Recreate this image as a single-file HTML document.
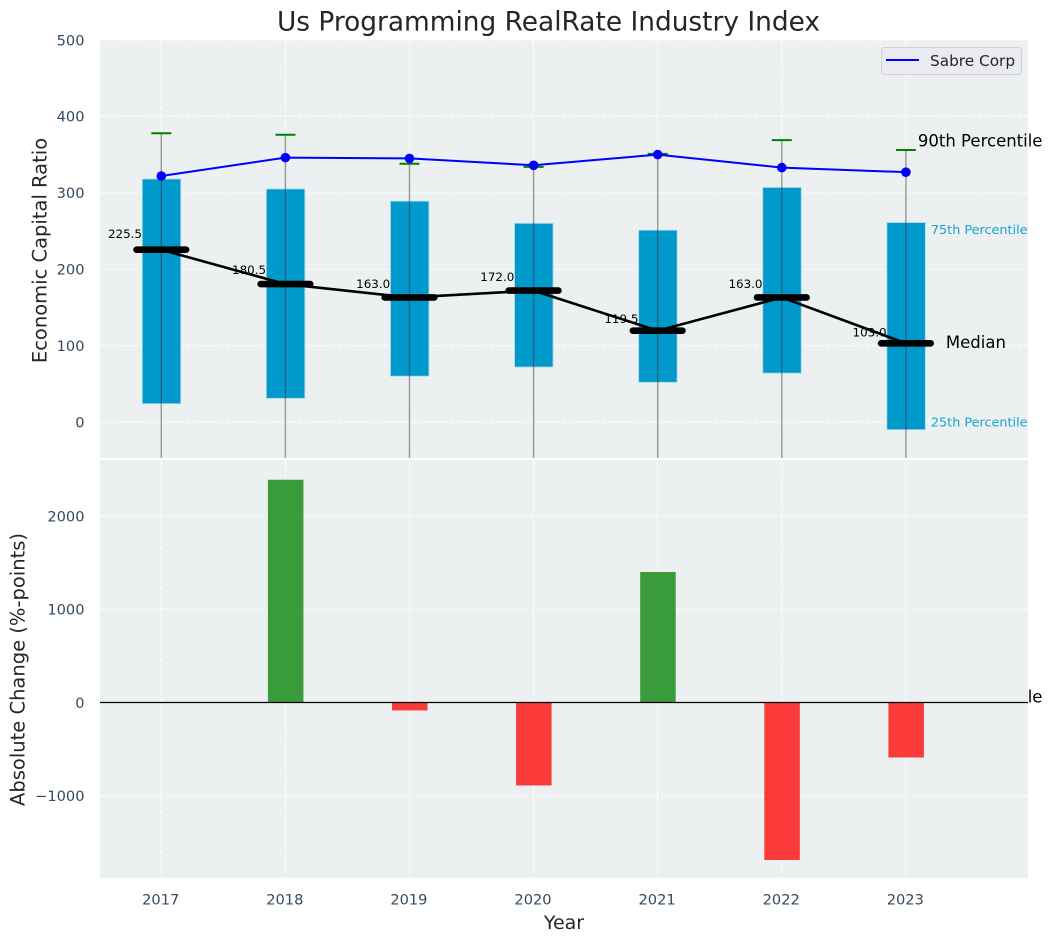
<!DOCTYPE html>
<html lang="en">
<head>
<meta charset="utf-8">
<title>Us Programming RealRate Industry Index</title>
<style>
  html, body { margin: 0; padding: 0; background: #ffffff; }
  svg { display: block; }
  text { font-family: "DejaVu Sans", "Liberation Sans", sans-serif; }
</style>
</head>
<body>
<svg id="chart" xmlns="http://www.w3.org/2000/svg" width="1053" height="942" viewBox="0 0 1053 942">
  <defs>
    <clipPath id="top-clip"><rect x="100" y="40" width="928" height="418"></rect></clipPath>
    <clipPath id="bottom-clip"><rect x="100" y="460" width="928" height="418"></rect></clipPath>
  </defs>
  <rect x="100" y="40" width="928" height="418" fill="#ecf0f1"></rect>
  <g id="top-grid"></g>
  <g id="top-marks"></g>
  <g id="top-notes"></g>
  <rect x="100" y="460" width="928" height="418" fill="#ecf0f1"></rect>
  <g id="bottom-grid"></g>
  <g id="bottom-marks"></g>
  <g id="axis-labels"></g>

  <text x="548.5" y="30.5" text-anchor="middle" font-size="26.4" fill="#262626">Us Programming RealRate Industry Index</text>
  <text transform="translate(46.5,250.5) rotate(-90)" text-anchor="middle" font-size="19.5" fill="#262626">Economic Capital Ratio</text>
  <text transform="translate(24.5,669.5) rotate(-90)" text-anchor="middle" font-size="19.5" fill="#262626">Absolute Change (%-points)</text>
  <text x="564" y="929" text-anchor="middle" font-size="19" fill="#262626">Year</text>

  <g>
    <rect x="881.5" y="47.5" width="140" height="27" rx="3" fill="#eaeaf2" stroke="#d0d0d4" stroke-width="1"></rect>
    <line x1="886" y1="60" x2="919" y2="60" stroke="#0000ff" stroke-width="2"></line>
    <text x="930" y="66" font-size="15.3" fill="#262626">Sabre Corp</text>
  </g>
</svg>
<script>
const years = [2017, 2018, 2019, 2020, 2021, 2022, 2023];
const p10 = [-340, -330, -300, -320, -330, -340, -360];
const p25 = [24, 31, 60, 72, 52, 64, -10];
const medians = [225.5, 180.5, 163.0, 172.0, 119.5, 163.0, 103.0];
const p75 = [318, 305, 289, 260, 251, 307, 261];
const p90 = [378, 376, 338, 334, 351, 369, 356];
const sabreCorp = [322, 346, 345, 336, 350, 333, 327];
const absoluteChange = [0, 2390, -85, -890, 1400, -1690, -590];
const topTicks = [0, 100, 200, 300, 400, 500];
const bottomTicks = [-1000, 0, 1000, 2000];

const NS = 'http://www.w3.org/2000/svg';
const xScale = function (year) { return 161.3 + (year - 2017) * 124.1; };
const yTop = function (v) { return 422 - v * 0.764; };
const yBottom = function (v) { return 702.5 - v * 0.0932; };

function make(parent, tag, attrs, content) {
  const el = document.createElementNS(NS, tag);
  Object.keys(attrs).forEach(function (k) { el.setAttribute(k, attrs[k]); });
  if (content !== undefined) el.textContent = content;
  parent.appendChild(el);
  return el;
}
const byId = function (id) { return document.getElementById(id); };
const gridStyle = { stroke: '#ffffff', 'stroke-width': 1.2, 'stroke-dasharray': '4.6 2', 'stroke-opacity': 0.8 };

/* grid lines */
topTicks.forEach(function (t) {
  const el = make(byId('top-grid'), 'line', Object.assign({ x1: 100, x2: 1028, y1: yTop(t), y2: yTop(t) }, gridStyle));
  
  
});
bottomTicks.forEach(function (t) {
  const el = make(byId('bottom-grid'), 'line', Object.assign({ x1: 100, x2: 1028, y1: yBottom(t), y2: yBottom(t) }, gridStyle));
  
  
});
years.forEach(function (yr) {
  const a = make(byId('top-grid'), 'line', Object.assign({ x1: xScale(yr), x2: xScale(yr), y1: 40, y2: 458 }, gridStyle));
  
  
  const b = make(byId('bottom-grid'), 'line', Object.assign({ x1: xScale(yr), x2: xScale(yr), y1: 460, y2: 878 }, gridStyle));
  
  
});

/* top panel marks */
const topMarks = byId('top-marks');
topMarks.setAttribute('clip-path', 'url(#top-clip)');

years.forEach(function (yr, i) {
  const x = xScale(yr);
  const box = make(topMarks, 'rect', {
    x: x - 19, width: 38.4,
    y: yTop(p75[i]), height: yTop(p25[i]) - yTop(p75[i]),
    fill: '#0099cc', stroke: '#a6d8ea', 'stroke-width': 0.8
  });
  
  

  const whisker = make(topMarks, 'line', {
    x1: x, x2: x, y1: yTop(p10[i]), y2: yTop(p90[i]),
    stroke: '#333333', 'stroke-opacity': 0.5, 'stroke-width': 1.4
  });
  
  

  const cap = make(topMarks, 'line', {
    x1: x - 10, x2: x + 10, y1: yTop(p90[i]), y2: yTop(p90[i]),
    stroke: '#008000', 'stroke-width': 2
  });
  
  

  const label = make(topMarks, 'text', {
    x: x - 19.3, y: yTop(medians[i] * 1.05) - 3,
    'text-anchor': 'end', 'font-size': 11.9, fill: '#000000'
  }, medians[i].toFixed(1));
  
  
});

const medianLine = make(topMarks, 'polyline', {
  points: years.map(function (yr, i) { return xScale(yr) + ',' + yTop(medians[i]); }).join(' '),
  fill: 'none', stroke: '#000000', 'stroke-width': 2.6
});



years.forEach(function (yr, i) {
  const x = xScale(yr);
  const bar = make(topMarks, 'line', {
    x1: x - 24.8, x2: x + 24.8, y1: yTop(medians[i]), y2: yTop(medians[i]),
    stroke: '#000000', 'stroke-width': 6.6, 'stroke-linecap': 'round'
  });
  
  
});

const sabreLine = make(topMarks, 'polyline', {
  points: years.map(function (yr, i) { return xScale(yr) + ',' + yTop(sabreCorp[i]); }).join(' '),
  fill: 'none', stroke: '#0000ff', 'stroke-width': 2
});



years.forEach(function (yr, i) {
  const dot = make(topMarks, 'circle', { cx: xScale(yr), cy: yTop(sabreCorp[i]), r: 4.8, fill: '#0000ff' });
  
  
});

/* annotations on the last year */
const last = years.length - 1;
const lastX = xScale(years[last]);
const notes = byId('top-notes');

const n90 = make(notes, 'text', { x: lastX + 12, y: yTop(p90[last]) - 3.5, 'font-size': 16.5, fill: '#000000' }, '90th Percentile');



const n75 = make(notes, 'text', { x: lastX + 25, y: yTop(p75[last]) + 11.5, 'font-size': 12.8, fill: '#0099cc', 'fill-opacity': 0.9 }, '75th Percentile');



const nMed = make(notes, 'text', { x: lastX + 40, y: yTop(medians[last]) + 4.8, 'font-size': 16.5, fill: '#000000' }, 'Median');



const n25 = make(notes, 'text', { x: lastX + 25, y: yTop(p25[last]) - 3.2, 'font-size': 12.8, fill: '#0099cc', 'fill-opacity': 0.9 }, '25th Percentile');



const n10 = make(notes, 'text', { x: lastX + 12, y: yTop(p10[last]) + 5.5, 'font-size': 16.5, fill: '#000000' }, '10th Percentile');



/* bottom panel marks */
const bottomMarks = byId('bottom-marks');
bottomMarks.setAttribute('clip-path', 'url(#bottom-clip)');

years.forEach(function (yr, i) {
  const v = absoluteChange[i];
  const top = Math.min(yBottom(v), yBottom(0));
  const bar = make(bottomMarks, 'rect', {
    x: xScale(yr) - 17.5, width: 35.5,
    y: top, height: Math.abs(yBottom(v) - yBottom(0)),
    fill: v >= 0 ? '#008000' : '#ff0000', 'fill-opacity': 0.76
  });
  
  
});

const zero = make(bottomMarks, 'line', { x1: 100, x2: 1028, y1: yBottom(0), y2: yBottom(0), stroke: '#000000', 'stroke-width': 1.3 });



/* tick labels */
const labels = byId('axis-labels');
const tickStyle = { 'font-size': 14.6, fill: '#34495e' };
const fmt = function (t) { return String(t).replace('-', '\u2212'); };

topTicks.forEach(function (t) {
  const el = make(labels, 'text', Object.assign({ x: 84.5, y: yTop(t) + 5.3, 'text-anchor': 'end' }, tickStyle), fmt(t));
  
  
});
bottomTicks.forEach(function (t) {
  const el = make(labels, 'text', Object.assign({ x: 84.5, y: yBottom(t) + 5.3, 'text-anchor': 'end' }, tickStyle), fmt(t));
  
  
});
years.forEach(function (yr) {
  const el = make(labels, 'text', Object.assign({ x: xScale(yr) - 0.6, y: 904.5, 'text-anchor': 'middle' }, tickStyle), String(yr));
  
  
});
</script>
</body>
</html>
